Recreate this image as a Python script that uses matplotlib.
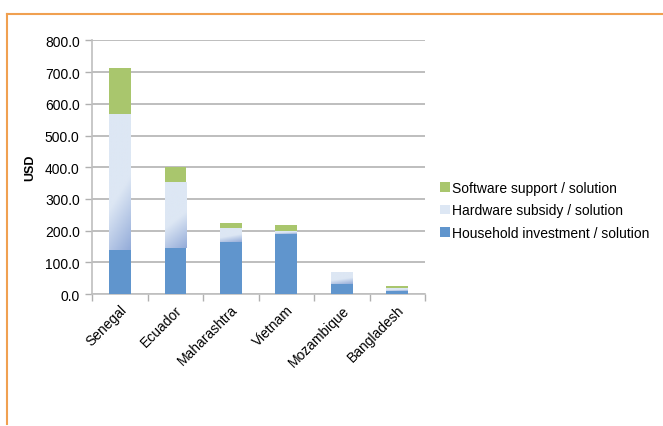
import matplotlib.pyplot as plt
import numpy as np
from matplotlib.colors import LinearSegmentedColormap
from matplotlib.patches import Rectangle

plt.rcParams['font.family'] = ['Liberation Sans', 'DejaVu Sans']

countries = ['Senegal', 'Ecuador', 'Maharashtra', 'Vietnam', 'Mozambique', 'Bangladesh']
household = [140, 145, 163, 188, 33, 11]
hardware = [428, 210, 45, 10, 37, 8]
software = [144, 47, 17, 19, 0, 6]

c_house = '#6095cd'
c_hw_light = '#dde7f4'
c_hw_dark = '#94acd9'
c_soft = '#a9c66d'

fig = plt.figure(figsize=(6.63, 4.27), dpi=100)
ax = fig.add_axes([0.139, 0.309, 0.502, 0.594])

x = np.arange(len(countries))
w = 0.39
household = np.array(household)
hardware = np.array(hardware)
software = np.array(software)

ax.bar(x, household, w, color=c_house, zorder=3, label='Household investment / solution')
hw_bars = ax.bar(x, hardware, w, bottom=household, color=c_hw_light, zorder=3,
                 label='Hardware subsidy / solution')
ax.bar(x, software, w, bottom=household + hardware, color=c_soft, zorder=3,
       label='Software support / solution')

# diagonal gradient in the hardware bars
cmap = LinearSegmentedColormap.from_list('hw', [c_hw_dark, c_hw_light])
for b in hw_bars:
    x0, y0 = b.get_x(), b.get_y()
    bw, bh = b.get_width(), b.get_height()
    if bh <= 0:
        continue
    yy, xx = np.mgrid[0:1:100j, 0:1:30j]
    t = np.clip((yy + 0.25 * (1 - xx)) / 0.55, 0, 1)
    im = ax.imshow(t, cmap=cmap, origin='lower', aspect='auto',
                   extent=[x0, x0 + bw, y0, y0 + bh], zorder=3.5, vmin=0, vmax=1)
    clip = Rectangle((x0, y0), bw, bh, transform=ax.transData)
    im.set_clip_path(clip)

ax.set_xlim(-0.5, len(countries) - 0.5)
ax.set_ylim(0, 800)
ax.set_yticks(np.arange(0, 801, 100))
ax.set_yticklabels([f'{v:.1f}' for v in np.arange(0, 801, 100)], fontsize=10)
ax.set_xticks(x)
ax.set_xticklabels(countries, rotation=45, ha='right', rotation_mode='anchor', fontsize=10)
ax.tick_params(axis='x', length=0, pad=6)
ax.set_xticks(np.arange(-0.5, len(countries)), minor=True)
ax.tick_params(axis='x', which='minor', length=5, color='#b0b0b0', width=1)
ax.tick_params(axis='y', length=5, color='#b0b0b0', width=1, pad=4)
ax.grid(axis='y', color='#b3b3b3', linewidth=1.2, zorder=0)
ax.set_ylabel('USD', fontsize=9, fontweight='bold', labelpad=6)

for s in ['top', 'right']:
    ax.spines[s].set_visible(False)
for s in ['left', 'bottom']:
    ax.spines[s].set_color('#bfbfbf')
    ax.spines[s].set_linewidth(1.2)

h, l = ax.get_legend_handles_labels()
ax.legend(h[::-1], l[::-1], loc='center left', bbox_to_anchor=(1.0, 0.33),
          frameon=False, fontsize=10, handlelength=0.7, handleheight=0.7,
          handletextpad=0.15, labelspacing=0.6, borderaxespad=0.7)

# orange frame lines (top and left)
fig.add_artist(plt.Line2D([7 / 663, 1], [1 - 15 / 427, 1 - 15 / 427],
                          color='#f0a050', linewidth=1.5, transform=fig.transFigure))
fig.add_artist(plt.Line2D([7 / 663, 7 / 663], [0.005, 1 - 15 / 427],
                          color='#f0a050', linewidth=1.5, transform=fig.transFigure))

fig.savefig('out.png', dpi=100)
